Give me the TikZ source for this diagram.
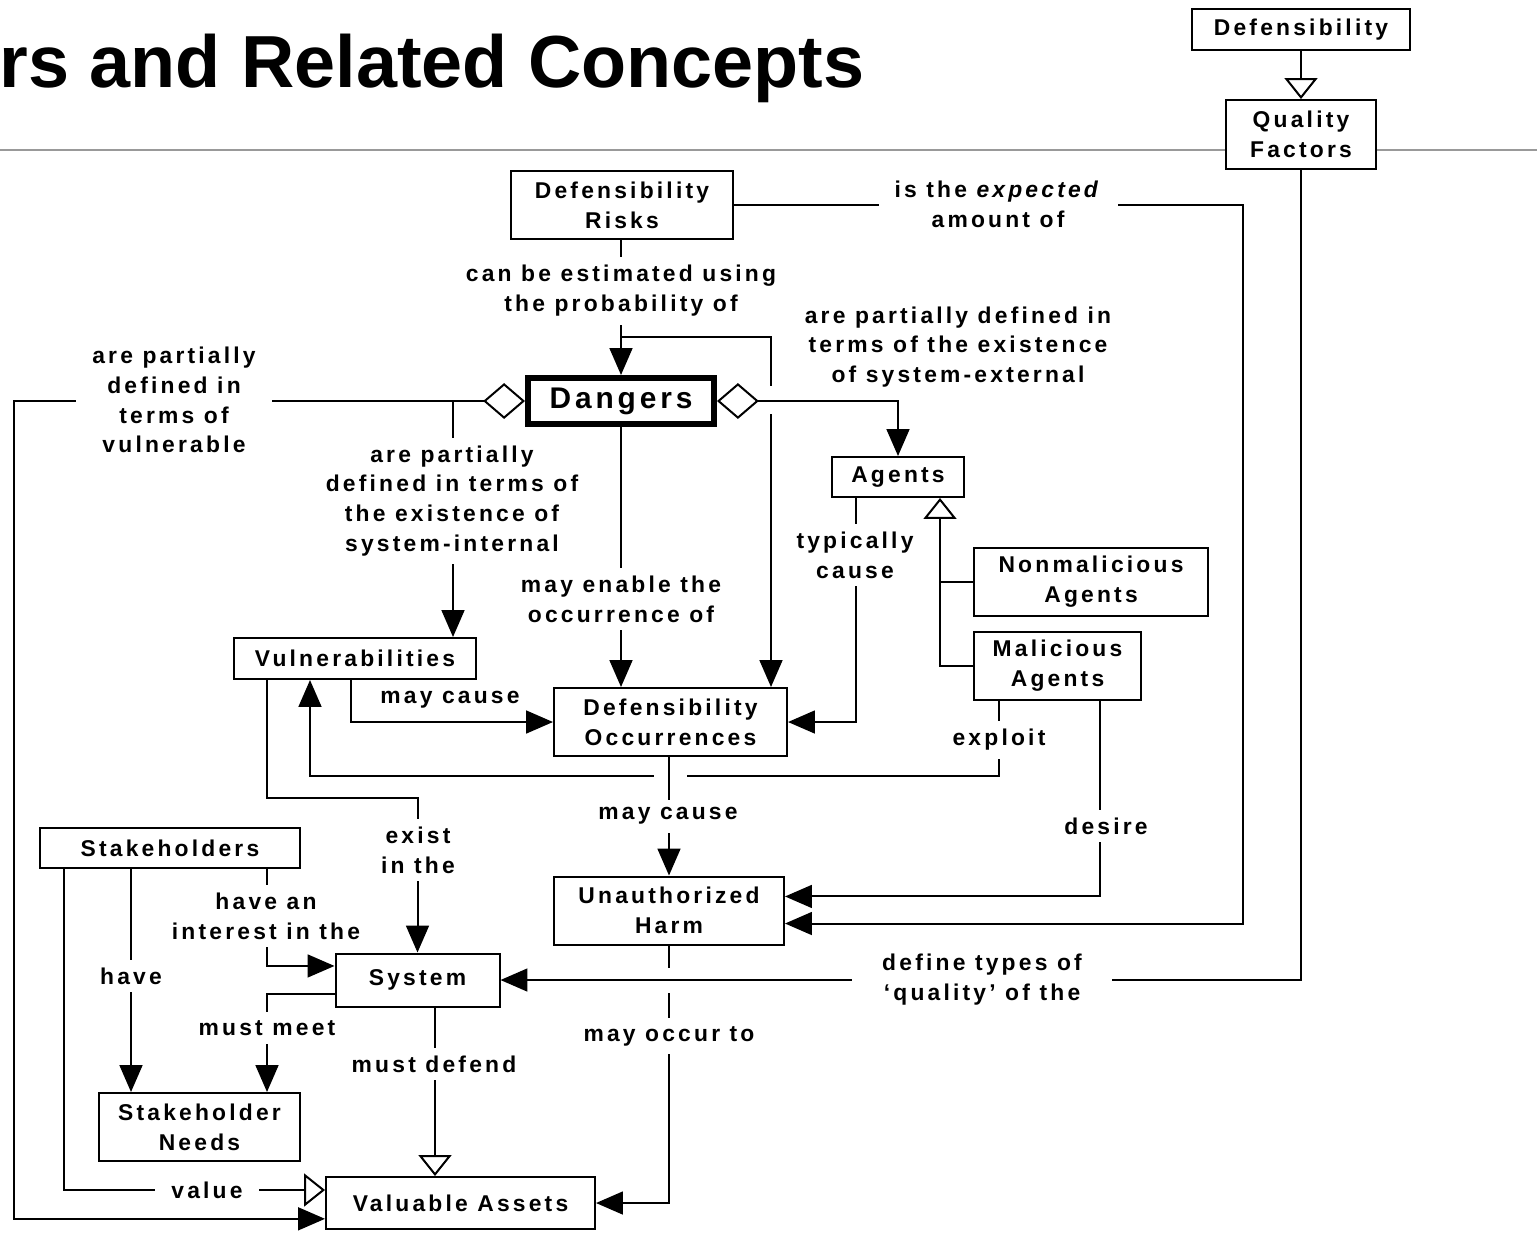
\documentclass[tikz,border=0pt]{standalone}
\usepackage{fontspec}
\setmainfont{Liberation Sans}
\newfontfamily\labfamily{Liberation Sans}[LetterSpace=14]
\newfontfamily\bigfamily{Liberation Sans}[LetterSpace=13]
\usetikzlibrary{arrows.meta}
\newlength{\px}\setlength{\px}{0.02cm}
\newcommand\lbl{\labfamily\bfseries\fontsize{13}{17}\selectfont}
\begin{document}
\begin{tikzpicture}[x=0.02cm,y=-0.02cm,
  box/.style={draw, line width=2\px, fill=white, inner sep=0pt, align=center, font=\lbl},
  conn/.style={draw, line width=2\px},
  arr/.style={conn, -{Triangle[length=15.3pt,width=13pt]}},
  inh/.style={conn, -{Triangle[open,length=11.9pt,width=18.7pt]}},
  aggarr/.style={conn, {Diamond[open,length=23.8pt,width=20.4pt]}-{Triangle[length=15.3pt,width=13pt]}},
  lab/.style={fill=white, inner xsep=16\px, inner ysep=8\px, align=center, font=\lbl},
  freelab/.style={inner sep=0pt, align=center, font=\lbl},
  gapcut/.style={draw=white, line width=6\px},
]
\useasboundingbox (0,0) rectangle (1537,1232);

% title and rule
\node[anchor=base west, inner sep=0pt, font=\fontsize{42}{48}\selectfont\bfseries] (title) at (-1,87) {rs and Related Concepts};
\draw[black!40, line width=1.5\px] (0,150) -- (1537,150);

% concepts
\node[box, minimum width=218\px, minimum height=41\px] (def) at (1301,29.5) {Defensibility};
\node[box, minimum width=150\px, minimum height=69\px] (qf) at (1301,134.5) {Quality\\Factors};
\node[box, minimum width=222\px, minimum height=68\px] (risks) at (622,205) {Defensibility\\Risks};
\node[box, line width=6\px, minimum width=186\px, minimum height=46\px,
      font=\bigfamily\bfseries\fontsize{17}{20}\selectfont] (dangers) at (621,401) {Dangers};
\node[box, minimum width=132\px, minimum height=40\px] (agents) at (898,477) {Agents};
\node[box, minimum width=234\px, minimum height=68\px] (nonmal) at (1091,582) {Nonmalicious\\Agents};
\node[box, minimum width=167\px, minimum height=68\px] (mal) at (1057.5,666) {Malicious\\Agents};
\node[box, minimum width=242\px, minimum height=41\px] (vul) at (355,658.5) {Vulnerabilities};
\node[box, minimum width=233\px, minimum height=68\px] (occ) at (670.5,722) {Defensibility\\Occurrences};
\node[box, minimum width=230\px, minimum height=68\px] (harm) at (669,910.5) {Unauthorized\\Harm};
\node[box, minimum width=164\px, minimum height=53\px] (system) at (417.5,980) {System};
\node[box, minimum width=260\px, minimum height=40\px] (stake) at (170,848) {Stakeholders};
\node[box, minimum width=201\px, minimum height=68\px] (needs) at (199.5,1127) {Stakeholder\\Needs};
\node[box, minimum width=269\px, minimum height=52\px] (assets) at (460.5,1203) {Valuable Assets};

% generalisation links
\draw[inh] (def) -- (qf);
\draw[inh] (mal.west) -| (agents.south -| 940,0);
\draw[conn] (nonmal.west) -- (nonmal.west -| 940,0);

% risks
\draw[arr] (risks.south -| dangers.north) -- (dangers.north);
\coordinate (est) at (621,337);
\draw[arr] (est) -| (occ.north -| 771,0);
\draw[gapcut] (771,386) -- (771,414);
\draw[arr] (risks.east) -- (1243,205) |- ([yshift=-7.4pt]harm.east);

% dangers
\draw[aggarr] (dangers.east) -| (agents.north);
\draw[aggarr] (dangers.west) -- (14,401) |- ([yshift=-9pt]assets.west);
\coordinate (vsplit) at (453,401);
\draw[arr] (vsplit) -- (vsplit |- vul.north);
\draw[arr] (dangers.south) -- (dangers.south |- occ.north);

% agents and vulnerabilities
\draw[arr] (agents.south -| 856,0) |- (occ.east);
\draw[arr] (vul.south -| 351,0) |- (occ.west);
\draw[arr] (mal.south -| 999,0) |- (310,776) -- (vul.south -| 310,0);
\draw[gapcut] (654,776) -- (687,776);
\draw[arr] (vul.south -| 267,0) |- (system.north |- 0,798) -- (system.north);

% harm
\draw[arr] (occ.south -| harm.north) -- (harm.north);
\draw[arr] (mal.south -| 1100,0) |- ([yshift=8pt]harm.east);
\draw[arr] (harm.south) |- (assets.east);
\draw[gapcut] (669,968) -- (669,993);
\draw[arr] (qf.south) |- (system.east);

% stakeholders and system
\draw[arr] (stake.south -| 131,0) -- (needs.north -| 131,0);
\draw[arr] (stake.south -| 267,0) |- ([yshift=8pt]system.west);
\draw[arr] ([yshift=-8pt]system.west) -| (needs.north -| 267,0);
\draw[inh] (system.south -| 435,0) -- (assets.north -| 435,0);
\draw[inh] (stake.south -| 64,0) |- ([yshift=7.4pt]assets.west);

% link labels
\node[lab] (l-est) at (621,291) {can be estimated using\\the probability of};
\node[lab] (l-exp) at (998,204) {is the \textit{expected}\\amount of};
\node[freelab] (l-ext) at (958,347) {are partially defined in\\terms of the existence\\of system-external};
\node[lab] (l-vul) at (174,400) {are partially\\defined in\\terms of\\vulnerable};
\node[lab] (l-int) at (452,501) {are partially\\defined in terms of\\the existence of\\system-internal};
\node[lab] (l-en) at (621,599) {may enable the\\occurrence of};
\node[lab, inner xsep=4\px] (l-typ) at (855,555) {typically\\cause};
\node[freelab] (l-mc1) at (450,700) {may cause};
\node[lab] (l-exl) at (999,740) {exploit};
\node[lab] (l-exi) at (418,850) {exist\\in the};
\node[lab] (l-mc2) at (668,816) {may cause};
\node[lab] (l-des) at (1106,826) {desire};
\node[lab, inner xsep=30\px] (l-def) at (982,980) {define types of\\‘quality’ of the};
\node[lab] (l-int2) at (266,916) {have an\\interest in the};
\node[lab] (l-have) at (131,976) {have};
\node[lab] (l-meet) at (267,1028) {must meet};
\node[lab] (l-defd) at (434,1064) {must defend};
\node[lab] (l-occ) at (669,1036) {may occur to};
\node[lab] (l-val) at (207,1190) {value};
\end{tikzpicture}
\end{document}
